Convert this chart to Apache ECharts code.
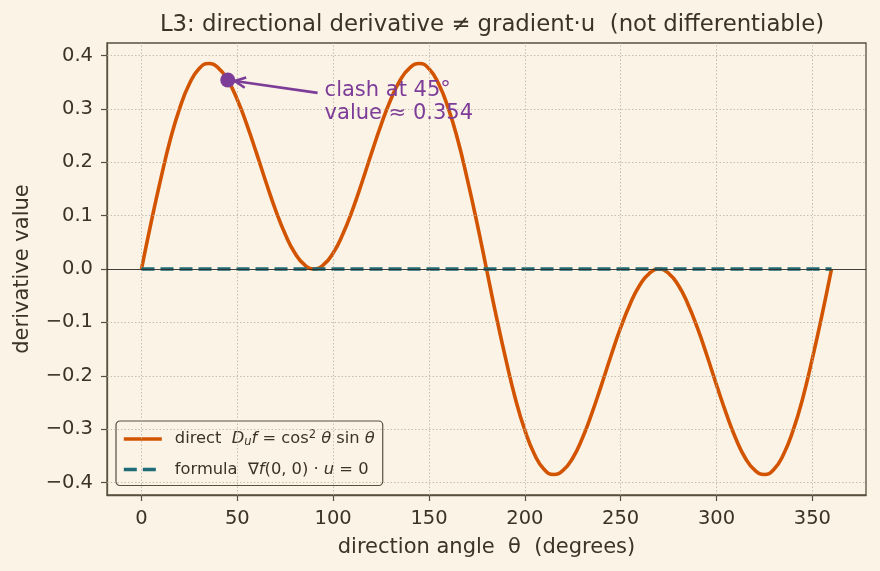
<!DOCTYPE html>
<html>
<head>
<meta charset="utf-8">
<script src="https://cdn.jsdelivr.net/npm/echarts@6/dist/echarts.min.js"></script>
<style>
  html, body { margin: 0; padding: 0; background: #faf3e6; }
  #main { width: 880px; height: 571px; }
</style>
</head>
<body>
<div id="main"></div>
<script>
var myChart = echarts.init(document.getElementById('main'));

// angles in degrees (every 5)
var angles = [];
for (var a = 0; a <= 360; a += 5) angles.push(a);

// direct directional derivative
var directValues = [
  0, 0.087, 0.168, 0.242, 0.302, 0.347, 0.375, 0.385, 0.377, 0.354, 0.317, 0.270, 0.217,
  0.162, 0.110, 0.065, 0.030, 0.008, 0,
  0.008, 0.030, 0.065, 0.110, 0.162, 0.217, 0.270, 0.317, 0.354, 0.377, 0.385, 0.375,
  0.347, 0.302, 0.242, 0.168, 0.087, 0,
  -0.087, -0.168, -0.242, -0.302, -0.347, -0.375, -0.385, -0.377, -0.354, -0.317, -0.270, -0.217,
  -0.162, -0.110, -0.065, -0.030, -0.008, 0,
  -0.008, -0.030, -0.065, -0.110, -0.162, -0.217, -0.270, -0.317, -0.354, -0.377, -0.385, -0.375,
  -0.347, -0.302, -0.242, -0.168, -0.087, 0
];
var formulaAngles = [0, 360];
var formulaValues = [0, 0];

var xTicks = [0, 50, 100, 150, 200, 250, 300, 350];
var yTicks = [-0.4, -0.3, -0.2, -0.1, 0, 0.1, 0.2, 0.3, 0.4];

var clashPoint = [45, 0.354];
var clashText = 'clash at 45°\nvalue ≈ 0.354';

var textColor = '#3b3326';
var spineColor = '#5b4f40';
var gridColor = '#b9b0a0';

var directData = angles.map(function (a, i) { return [a, directValues[i]]; });
var formulaData = formulaAngles.map(function (a, i) { return [a, formulaValues[i]]; });

var gridLines = [];
xTicks.forEach(function (v) { gridLines.push({ xAxis: v }); });
yTicks.forEach(function (v) { if (v !== 0) gridLines.push({ yAxis: v }); });

var font = 'DejaVu Sans';
var lf = 16.3;

var option = {
    backgroundColor: '#faf3e6',
    animation: false,
    textStyle: { fontFamily: font, color: textColor },
    title: {
        text: 'L3: directional derivative ≠ gradient·u  (not differentiable)',
        left: 487, top: 9, textAlign: 'center',
        textStyle: { fontFamily: font, fontSize: 22.8, fontWeight: 'normal', color: textColor }
    },
    grid: {
        left: 107, right: 14, top: 43, bottom: 76,
        show: true, borderColor: spineColor, borderWidth: 1.3, backgroundColor: '#faf3e6'
    },
    legend: {
        left: 116, top: 421, orient: 'vertical',
        itemWidth: 38, itemHeight: 14, itemGap: 13,
        padding: [8, 8, 8, 6],
        backgroundColor: '#faf3e6', borderColor: spineColor, borderWidth: 1.2, borderRadius: 4,
        itemStyle: { color: 'rgba(0,0,0,0)', borderWidth: 0, opacity: 0 },
        lineStyle: { width: 3.6 },
        textStyle: {
            fontFamily: font, fontSize: lf, color: textColor, padding: [0, 0, 0, 8],
            rich: {
                n: { fontFamily: font, fontSize: lf, color: textColor },
                i: { fontFamily: font, fontSize: lf, fontStyle: 'italic', color: textColor },
                sub: { fontFamily: font, fontSize: 11.5, fontStyle: 'italic', color: textColor, padding: [7, 0, 0, 0] },
                sup: { fontFamily: font, fontSize: 11.5, color: textColor, padding: [0, 0, 8, 0] }
            }
        },
        formatter: function (name) {
            if (name === 'direct') {
                return '{n|direct  }{i|D}{sub|u}{i|f}{n| = cos}{sup|2}{i| θ}{n| sin }{i|θ}';
            }
            return '{n|formula  ∇}{i|f}{n|(0, 0) · }{i|u}{n| = 0}';
        },
        data: ['direct', 'formula']
    },
    xAxis: {
        type: 'value', min: -18, max: 378,
        name: 'direction angle  θ  (degrees)', nameLocation: 'middle', nameGap: 42,
        nameTextStyle: { fontFamily: font, fontSize: 21, color: textColor },
        axisLine: { show: true, onZero: false, lineStyle: { color: spineColor, width: 1.3 } },
        axisTick: { show: true, length: 6, customValues: xTicks, lineStyle: { color: spineColor, width: 1.2 } },
        axisLabel: { customValues: xTicks, fontFamily: font, fontSize: 19.5, color: textColor, margin: 14 },
        splitLine: { show: false }
    },
    yAxis: {
        type: 'value', min: -0.4234, max: 0.4234,
        name: 'derivative value', nameLocation: 'middle', nameGap: 74,
        nameTextStyle: { fontFamily: font, fontSize: 21, color: textColor },
        axisLine: { show: true, onZero: false, lineStyle: { color: spineColor, width: 1.3 } },
        axisTick: { show: true, length: 6, customValues: yTicks, lineStyle: { color: spineColor, width: 1.2 } },
        axisLabel: {
            customValues: yTicks, fontFamily: font, fontSize: 19.5, color: textColor, margin: 14,
            formatter: function (v) { return v.toFixed(1).replace('-', '−'); }
        },
        splitLine: { show: false }
    },
    series: [
        {
            name: 'grid', type: 'line', data: [], silent: true,
            markLine: {
                silent: true, symbol: ['none', 'none'], animation: false,
                label: { show: false },
                lineStyle: { color: gridColor, type: [1.5, 2], width: 0.8 },
                data: gridLines
            }
        },
        {
            name: 'zero', type: 'line', data: [], silent: true,
            markLine: {
                silent: true, symbol: ['none', 'none'], animation: false,
                label: { show: false },
                lineStyle: { color: '#2d2a26', type: 'solid', width: 0.9 },
                data: [{ yAxis: 0 }]
            }
        },
        {
            name: 'direct', type: 'line', data: directData, smooth: true,
            symbol: 'none', color: '#d35400',
            lineStyle: { width: 3.6, color: '#d35400' }, z: 3
        },
        {
            name: 'formula', type: 'line', data: formulaData,
            symbol: 'none', color: '#1f6b77',
            lineStyle: { width: 3.6, color: '#1f6b77', type: [13, 6] }, z: 4
        },
        {
            name: 'clash', type: 'scatter', data: [clashPoint],
            symbolSize: 15, itemStyle: { color: '#7d3c98', opacity: 1 }, z: 5
        }
    ]
};

myChart.setOption(option);

// annotation with arrow
var p = myChart.convertToPixel({ gridIndex: 0 }, clashPoint);
var tp = myChart.convertToPixel({ gridIndex: 0 }, [95, 0.33]);
var sx = tp[0] - 6, sy = tp[1];
var ex = p[0] + 7, ey = p[1] + 1;
var ang = Math.atan2(ey - sy, ex - sx);
var hl = 12, hw = 0.45;
myChart.setOption({
    graphic: [
        {
            type: 'line', z: 10,
            shape: { x1: sx, y1: sy, x2: ex, y2: ey },
            style: { stroke: '#7d3c98', lineWidth: 2.6 }
        },
        {
            type: 'polyline', z: 10,
            shape: { points: [
                [ex - hl * Math.cos(ang - hw), ey - hl * Math.sin(ang - hw)],
                [ex, ey],
                [ex - hl * Math.cos(ang + hw), ey - hl * Math.sin(ang + hw)]
            ] },
            style: { stroke: '#7d3c98', lineWidth: 2.6, fill: null }
        },
        {
            type: 'text', z: 10, left: tp[0] + 1, top: tp[1] - 14,
            style: {
                text: clashText, fill: '#7d3c98', font: '21px "DejaVu Sans"', lineHeight: 23
            }
        }
    ]
});
</script>
</body>
</html>
